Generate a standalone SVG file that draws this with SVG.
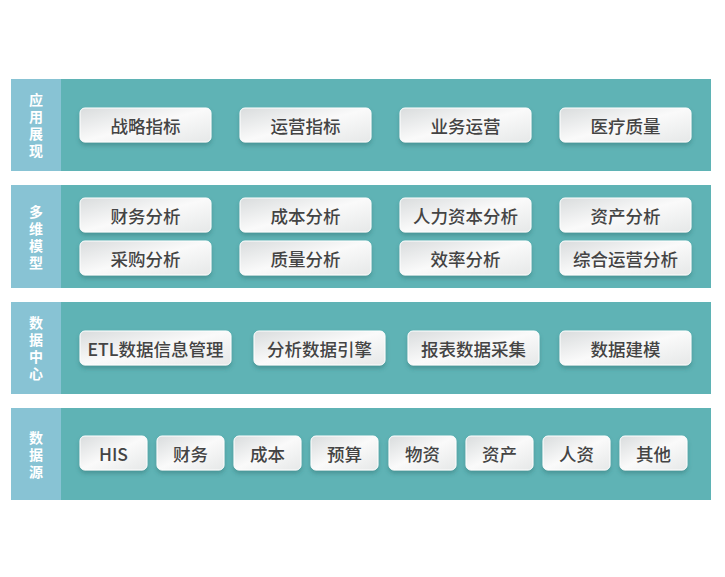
<svg xmlns="http://www.w3.org/2000/svg" width="725" height="577" viewBox="0 0 725 577">
<defs>
<linearGradient id="g" x1="0" y1="0" x2="1" y2="1"><stop offset="0" stop-color="#d9dcdd"/><stop offset="0.5" stop-color="#fafafa"/><stop offset="1" stop-color="#e6e8e8"/></linearGradient>
<filter id="sh" x="-10%" y="-20%" width="120%" height="160%"><feDropShadow dx="0" dy="3" stdDeviation="2" flood-color="#2a6e70" flood-opacity="0.45"/></filter>
</defs>
<style>
.band{fill:#5fb3b5}.side{fill:#88c3d4}
.b{fill:url(#g);stroke:#ffffff;stroke-width:1;filter:url(#sh)}
.t{font-family:"Noto Sans CJK SC","Noto Sans",sans-serif;font-size:17.5px;font-weight:500;fill:#444;text-anchor:middle;dominant-baseline:central}
.s{font-family:"Noto Sans CJK SC",sans-serif;font-size:14px;font-weight:bold;fill:#fff;text-anchor:middle}
</style>
<rect width="725" height="577" fill="#fff"/>
<g id="layer1"><rect class="band" x="11" y="79" width="700" height="92"/><rect class="side" x="11" y="79" width="50" height="92"/>
<text class="s" x="36" y="105">应</text><text class="s" x="36" y="122">用</text><text class="s" x="36" y="139">展</text><text class="s" x="36" y="156">现</text></g>
<g id="layer2"><rect class="band" x="11" y="185" width="700" height="103"/><rect class="side" x="11" y="185" width="50" height="103"/>
<text class="s" x="36" y="217">多</text><text class="s" x="36" y="234">维</text><text class="s" x="36" y="251">模</text><text class="s" x="36" y="268">型</text></g>
<g id="layer3"><rect class="band" x="11" y="302" width="700" height="92"/><rect class="side" x="11" y="302" width="50" height="92"/>
<text class="s" x="36" y="328">数</text><text class="s" x="36" y="345">据</text><text class="s" x="36" y="362">中</text><text class="s" x="36" y="379">心</text></g>
<g id="layer4"><rect class="band" x="11" y="408" width="700" height="92"/><rect class="side" x="11" y="408" width="50" height="92"/>
<text class="s" x="36" y="443">数</text><text class="s" x="36" y="460">据</text><text class="s" x="36" y="477">源</text></g>
<g id="r1">
<rect class="b" x="80" y="108" width="131" height="34" rx="5"/><text class="t" x="145.5" y="125">战略指标</text>
<rect class="b" x="240" y="108" width="131" height="34" rx="5"/><text class="t" x="305.5" y="125">运营指标</text>
<rect class="b" x="400" y="108" width="131" height="34" rx="5"/><text class="t" x="465.5" y="125">业务运营</text>
<rect class="b" x="560" y="108" width="131" height="34" rx="5"/><text class="t" x="625.5" y="125">医疗质量</text>
</g>
<g id="r2">
<rect class="b" x="80" y="198" width="131" height="34" rx="5"/><text class="t" x="145.5" y="215">财务分析</text>
<rect class="b" x="240" y="198" width="131" height="34" rx="5"/><text class="t" x="305.5" y="215">成本分析</text>
<rect class="b" x="400" y="198" width="131" height="34" rx="5"/><text class="t" x="465.5" y="215">人力资本分析</text>
<rect class="b" x="560" y="198" width="131" height="34" rx="5"/><text class="t" x="625.5" y="215">资产分析</text>
<rect class="b" x="80" y="241" width="131" height="34" rx="5"/><text class="t" x="145.5" y="258">采购分析</text>
<rect class="b" x="240" y="241" width="131" height="34" rx="5"/><text class="t" x="305.5" y="258">质量分析</text>
<rect class="b" x="400" y="241" width="131" height="34" rx="5"/><text class="t" x="465.5" y="258">效率分析</text>
<rect class="b" x="560" y="241" width="131" height="34" rx="5"/><text class="t" x="625.5" y="258">综合运营分析</text>
</g>
<g id="r3">
<rect class="b" x="80" y="331" width="151" height="34" rx="5"/><text class="t" x="155.5" y="348">ETL数据信息管理</text>
<rect class="b" x="254" y="331" width="131" height="34" rx="5"/><text class="t" x="319.5" y="348">分析数据引擎</text>
<rect class="b" x="408" y="331" width="131" height="34" rx="5"/><text class="t" x="473.5" y="348">报表数据采集</text>
<rect class="b" x="560" y="331" width="131" height="34" rx="5"/><text class="t" x="625.5" y="348">数据建模</text>
</g>
<g id="r4">
<rect class="b" x="80" y="436" width="67" height="34" rx="5"/><text class="t" x="113.5" y="453">HIS</text>
<rect class="b" x="157" y="436" width="67" height="34" rx="5"/><text class="t" x="190.5" y="453">财务</text>
<rect class="b" x="234" y="436" width="67" height="34" rx="5"/><text class="t" x="267.5" y="453">成本</text>
<rect class="b" x="311" y="436" width="67" height="34" rx="5"/><text class="t" x="344.5" y="453">预算</text>
<rect class="b" x="389" y="436" width="67" height="34" rx="5"/><text class="t" x="422.5" y="453">物资</text>
<rect class="b" x="466" y="436" width="67" height="34" rx="5"/><text class="t" x="499.5" y="453">资产</text>
<rect class="b" x="543" y="436" width="67" height="34" rx="5"/><text class="t" x="576.5" y="453">人资</text>
<rect class="b" x="620" y="436" width="67" height="34" rx="5"/><text class="t" x="653.5" y="453">其他</text>
</g>
<g id="connectors"/>
</svg>
